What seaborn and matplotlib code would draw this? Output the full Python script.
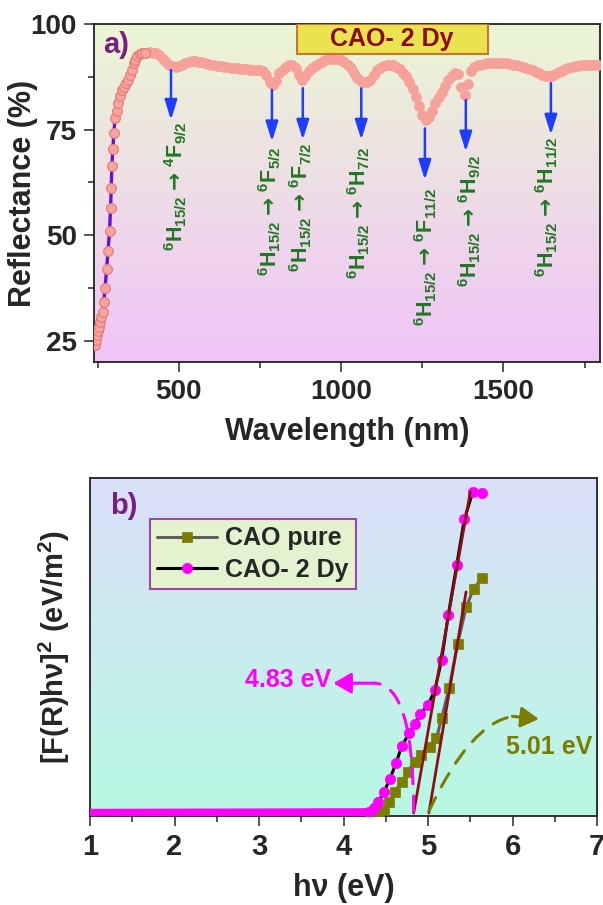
import numpy as np
import seaborn as sns
import matplotlib.pyplot as plt
from matplotlib.colors import LinearSegmentedColormap
from matplotlib.patches import Rectangle
from matplotlib.ticker import MultipleLocator

# ---------------- a) reflectance spectrum (CAO- 2 Dy) ----------------
# absorption edge, read point by point
wl_edge = [243, 246, 249, 252, 255, 258, 262, 266, 269, 273,
           278, 282, 287, 290, 292, 294, 297, 300, 304, 309,
           314, 319, 325, 331, 338, 344, 350, 356, 361, 366,
           372, 380, 388, 395]
r_edge = [24.0, 25.2, 26.4, 27.4, 28.4, 29.4, 30.6, 31.8, 34.1, 37.6,
          42.0, 46.3, 51.0, 56.5, 61.2, 66.3, 70.3, 74.2, 77.7, 79.3,
          81.3, 83.0, 84.4, 85.2, 86.0, 86.8, 88.0, 89.2, 90.7, 91.5,
          92.4, 92.9, 93.1, 93.2]
# 400 ... 1790 nm, every 10 nm
wl_main = list(range(400, 1800, 10))
r_main = [93.1, 93.3, 93.2, 93.1, 92.6, 91.8, 91.0, 90.4, 90.1, 89.9,
          90.0, 90.4, 90.8, 91.1, 91.2, 91.2, 91.1, 91.0, 90.8, 90.6,
          90.4, 90.3, 90.1, 90.0, 89.9, 89.8, 89.7, 89.6, 89.5, 89.4,
          89.3, 89.3, 89.2, 89.2, 89.1, 89.1, 88.8, 88.0, 86.3, 85.6,
          86.5, 88.4, 89.2, 89.9, 90.3, 90.3, 89.6, 88.0, 86.8, 87.6,
          88.9, 89.5, 90.0, 90.6, 91.0, 91.4, 91.6, 91.7, 91.7, 91.6,
          91.4, 91.0, 90.4, 89.6, 88.4, 87.3, 86.5, 86.3, 86.3, 86.8,
          88.0, 89.1, 89.6, 90.0, 90.3, 90.3, 90.2, 89.9, 89.3, 88.5,
          87.6, 86.3, 84.6, 82.8, 80.6, 78.4, 77.3, 77.9, 79.4, 81.2,
          82.8, 84.0, 85.4, 86.8, 87.8, 88.3, 88.2, 85.2, 83.2, 85.8,
          88.8, 89.8, 90.2, 90.4, 90.6, 90.7, 90.8, 90.8, 90.8, 90.8,
          90.7, 90.7, 90.6, 90.4, 90.2, 90.0, 89.8, 89.6, 89.3, 89.0,
          88.6, 88.3, 88.0, 87.7, 87.6, 87.7, 88.2, 88.6, 88.9, 89.3,
          89.7, 89.9, 90.0, 90.1, 90.2, 90.3, 90.3, 90.3, 90.3, 90.4]

# Dy3+ transitions: arrow position, arrow start / end, label position
arrow_nm = [476, 787, 882, 1062, 1258, 1384, 1646]
arrow_top = [89.1, 84.4, 84.8, 84.8, 75.3, 82.0, 86.0]
arrow_tip = [77.3, 72.2, 72.6, 72.6, 63.1, 69.8, 73.8]
label_nm = [490, 779, 876, 1053, 1260, 1396, 1633]
label_top = [77.0, 71.0, 71.9, 71.0, 61.2, 69.0, 73.4]
trans_labels = [
    r"$^{6}$H$_{15/2}$ $\mathrm{→}$ $^{4}$F$_{9/2}$",
    r"$^{6}$H$_{15/2}$ $\mathrm{→}$ $^{6}$F$_{5/2}$",
    r"$^{6}$H$_{15/2}$ $\mathrm{→}$ $^{6}$F$_{7/2}$",
    r"$^{6}$H$_{15/2}$ $\mathrm{→}$ $^{6}$H$_{7/2}$",
    r"$^{6}$H$_{15/2}$ $\mathrm{→}$ $^{6}$F$_{11/2}$",
    r"$^{6}$H$_{15/2}$ $\mathrm{→}$ $^{6}$H$_{9/2}$",
    r"$^{6}$H$_{15/2}$ $\mathrm{→}$ $^{6}$H$_{11/2}$",
]

# ---------------- b) Tauc plot ----------------
hv_pure = [4.42, 4.48, 4.54, 4.61, 4.69, 4.76, 4.84, 4.92, 5.02, 5.10,
           5.16, 5.25, 5.35, 5.45, 5.54, 5.64]
f_pure = [0.3, 0.9, 3.3, 6.3, 9.3, 12.2, 15.2, 17.2, 19.6, 22.1,
          28.0, 36.9, 50.0, 60.8, 66.4, 69.4]
hv_dy_base = [1.0, 4.30]
f_dy_base = [0.0, 0.2]
hv_dy = [4.30, 4.36, 4.41, 4.48, 4.55, 4.62, 4.69, 4.78, 4.84, 4.91,
         5.00, 5.08, 5.16, 5.24, 5.34, 5.43, 5.53, 5.64]
f_dy = [0.4, 1.4, 3.3, 6.3, 10.1, 14.7, 19.8, 23.7, 26.2, 29.2,
        32.0, 36.3, 45.2, 58.6, 73.4, 86.9, 95.0, 94.7]
gap_dy = 4.83
gap_pure = 5.01
fit_dy_x, fit_dy_y = [gap_dy, 5.50], [0.0, 95.0]
fit_pure_x, fit_pure_y = [gap_pure, 5.45], [0.0, 65.4]

# ---------------- style ----------------
sns.set_theme(style="ticks")
plt.rcParams['font.family'] = ['Liberation Sans', 'DejaVu Sans']
plt.rcParams['font.weight'] = 'bold'
plt.rcParams['axes.labelweight'] = 'bold'
plt.rcParams['mathtext.fontset'] = 'custom'
plt.rcParams['mathtext.rm'] = 'DejaVu Sans'
plt.rcParams['mathtext.default'] = 'regular'
plt.rcParams['axes.linewidth'] = 1.3
plt.rcParams['axes.edgecolor'] = '#222222'


def shade(ax, top, bottom):
    cmap = LinearSegmentedColormap.from_list('bg', [bottom, top])
    ax.imshow(np.linspace(0, 1, 256).reshape(-1, 1), cmap=cmap, origin='lower',
              aspect='auto', extent=[0, 1, 0, 1], transform=ax.transAxes, zorder=0)


fig = plt.figure(figsize=(6.03, 9.05), dpi=100)
ax1 = fig.add_axes([0.1559, 0.600, 0.839, 0.3735])
ax2 = fig.add_axes([0.1493, 0.0983, 0.8408, 0.3735])

# ---- panel a ----
shade(ax1, '#ebf6d4', '#f1c3f9')
# connecting line only shows along the steep edge
sns.lineplot(x=wl_edge + wl_main[:1], y=r_edge + r_main[:1], ax=ax1, color='#6412d8',
             lw=2.4, estimator=None, sort=False, zorder=2)
sns.lineplot(x=wl_main, y=r_main, ax=ax1, lw=0, marker='o', ms=7.2,
             mfc='#f7a19b', mec='#f7a19b', mew=0.5,
             estimator=None, sort=False, zorder=3)
sns.lineplot(x=wl_edge, y=r_edge, ax=ax1, lw=0, marker='o', ms=7.0,
             mfc='#f7a49e', mec='#e4807a', mew=0.9,
             estimator=None, sort=False, zorder=3)

for x0, y0, y1 in zip(arrow_nm, arrow_top, arrow_tip):
    ax1.annotate('', xy=(x0, y1), xytext=(x0, y0),
                 arrowprops=dict(arrowstyle='-|>,head_length=0.8,head_width=0.25',
                                 color='#1f3dff', lw=1.8, mutation_scale=15,
                                 shrinkA=0, shrinkB=0), zorder=4)
for x0, y0, s in zip(label_nm, label_top, trans_labels):
    ax1.text(x0, y0, s, rotation=90, ha='center', va='top', color='#217821',
             fontsize=15.5, zorder=4)

ax1.add_patch(Rectangle((863, 92.9), 588, 7.0, facecolor='#ebe24f',
                        edgecolor='#c8762e', lw=1.5, zorder=4))
ax1.text(1157, 96.4, 'CAO- 2 Dy', ha='center', va='center', color='#8b0a0a',
         fontsize=18, zorder=5)
ax1.text(308, 95.0, 'a)', ha='center', va='center', color='#7a1f7f',
         fontsize=21, zorder=5)

ax1.set_xlim(239, 1797)
ax1.set_ylim(20, 100)
ax1.set_xticks([500, 1000, 1500])
ax1.set_yticks([25, 50, 75, 100])
ax1.xaxis.set_minor_locator(MultipleLocator(250))
ax1.yaxis.set_minor_locator(MultipleLocator(12.5))
ax1.tick_params(which='major', length=7.5, width=1.1, labelsize=20, pad=5)
ax1.tick_params(which='minor', length=4.5, width=1.1)
ax1.set_xlabel('Wavelength (nm)', fontsize=22)
ax1.set_ylabel('Reflectance (%)', fontsize=22)
ax1.xaxis.set_label_coords(0.5, -0.163)
ax1.yaxis.set_label_coords(-0.11, 0.5)

# ---- panel b ----
shade(ax2, '#dcdff9', '#b7f9e3')
sns.lineplot(x=hv_pure, y=f_pure, ax=ax2, color='#5e5e5e', lw=2.2,
             marker='s', ms=6.5, mfc='#7c7c00', mec='#7c7c00', mew=0.5,
             estimator=None, sort=False, label='CAO pure', zorder=3)
sns.lineplot(x=hv_dy_base, y=f_dy_base, ax=ax2, color='#ff00ff', lw=6,
             estimator=None, sort=False, zorder=3)
sns.lineplot(x=hv_dy, y=f_dy, ax=ax2, color='black', lw=2.2,
             marker='o', ms=7.5, mfc='#ff00ff', mec='#ff00ff', mew=0.5,
             estimator=None, sort=False, label='CAO- 2 Dy', zorder=4)
sns.lineplot(x=fit_dy_x, y=fit_dy_y, ax=ax2, color='#8e0d12', lw=2.0,
             estimator=None, sort=False, zorder=5)
sns.lineplot(x=fit_pure_x, y=fit_pure_y, ax=ax2, color='#8e0d12', lw=2.0,
             estimator=None, sort=False, zorder=5)

# dashed curved arrows to the band-gap values
ax2.annotate('', xy=(4.36, 38.4), xytext=(gap_dy, 0.5),
             arrowprops=dict(arrowstyle='-', color='#ff00ff', lw=2.2, ls=(0, (5, 4)),
                             connectionstyle='angle3,angleA=90,angleB=0',
                             shrinkA=0, shrinkB=0), zorder=6)
ax2.annotate('', xy=(3.88, 38.4), xytext=(4.36, 38.4),
             arrowprops=dict(arrowstyle='-|>,head_length=0.6,head_width=0.35',
                             color='#ff00ff', lw=2.2, mutation_scale=18,
                             shrinkA=0, shrinkB=0), zorder=6)
ax2.text(3.35, 39.3, '4.83 eV', ha='center', va='center', color='#ff00ff',
         fontsize=18, zorder=6)
ax2.annotate('', xy=(6.0, 28.6), xytext=(gap_pure, 0.5),
             arrowprops=dict(arrowstyle='-', color='#7c7c00', lw=2.2, ls=(0, (5, 4)),
                             connectionstyle='angle3,angleA=65,angleB=10',
                             shrinkA=0, shrinkB=0), zorder=6)
ax2.annotate('', xy=(6.31, 27.8), xytext=(6.0, 28.6),
             arrowprops=dict(arrowstyle='-|>,head_length=0.6,head_width=0.35',
                             color='#7c7c00', lw=2.2, mutation_scale=18,
                             shrinkA=0, shrinkB=0), zorder=6)
ax2.text(6.43, 19.5, '5.01 eV', ha='center', va='center', color='#7c7c00',
         fontsize=18, zorder=6)
ax2.text(1.40, 90.7, 'b)', ha='center', va='center', color='#7a1f7f',
         fontsize=21, zorder=6)

leg = ax2.legend(loc='upper left', bbox_to_anchor=(0.118, 0.879), borderaxespad=0,
                 fontsize=18, frameon=True, fancybox=False, framealpha=1,
                 facecolor='#e3f3cf', edgecolor='#a345a3', handlelength=2.4,
                 handletextpad=0.3, labelspacing=0.3, borderpad=0.3)
leg.get_frame().set_linewidth(1.5)
leg.set_zorder(7)

ax2.set_xlim(1, 7)
ax2.set_ylim(-0.9, 99.1)
ax2.set_xticks([1, 2, 3, 4, 5, 6, 7])
ax2.xaxis.set_minor_locator(MultipleLocator(0.5))
ax2.tick_params(axis='y', left=False, labelleft=False)
ax2.tick_params(axis='x', which='major', length=7.5, width=1.1, labelsize=21, pad=5)
ax2.tick_params(axis='x', which='minor', length=4.5, width=1.1)
ax2.set_xlabel('hν (eV)', fontsize=22)
ax2.set_ylabel(r'[F(R)hν]$^{2}$ (eV/m$^{2}$)', fontsize=21)
ax2.xaxis.set_label_coords(0.5, -0.168)
ax2.yaxis.set_label_coords(-0.0355, 0.5)

plt.savefig('out.png', dpi=100)
